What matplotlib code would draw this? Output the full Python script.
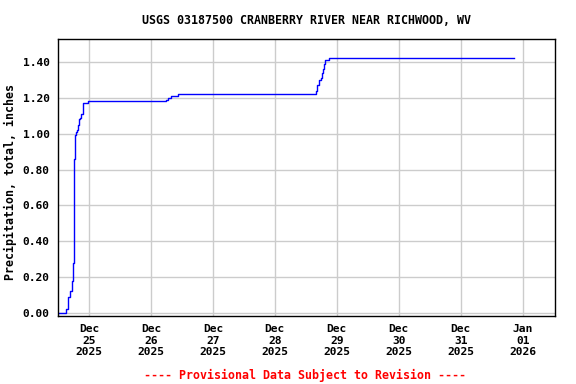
import matplotlib
matplotlib.use("Agg")
import matplotlib.pyplot as plt
import pandas as pd

# cumulative precipitation (inches)
times = ["2025-12-24 12:00", "2025-12-24 15:15", "2025-12-24 15:45", "2025-12-24 16:00",
         "2025-12-24 16:45", "2025-12-24 17:15", "2025-12-24 17:30", "2025-12-24 18:00",
         "2025-12-24 18:15", "2025-12-24 18:45", "2025-12-24 19:00", "2025-12-24 19:30",
         "2025-12-24 19:45", "2025-12-24 20:15", "2025-12-24 20:30", "2025-12-24 21:00",
         "2025-12-24 21:30", "2025-12-24 21:45", "2025-12-24 22:15", "2025-12-24 23:30",
         "2025-12-26 06:00", "2025-12-26 06:45", "2025-12-26 07:45", "2025-12-26 10:30",
         "2025-12-28 16:00", "2025-12-28 16:15", "2025-12-28 17:00", "2025-12-28 18:00",
         "2025-12-28 18:15", "2025-12-28 18:45", "2025-12-28 19:00", "2025-12-28 19:30",
         "2025-12-28 20:15", "2025-12-28 21:00", "2025-12-31 20:45"]
precip = [0.00, 0.02, 0.07, 0.09,
          0.12, 0.14, 0.18, 0.28,
          0.86, 0.99, 1.01, 1.02,
          1.05, 1.08, 1.09, 1.11,
          1.13, 1.17, 1.17, 1.18,
          1.19, 1.20, 1.21, 1.22,
          1.24, 1.27, 1.30, 1.31,
          1.34, 1.36, 1.39, 1.41,
          1.41, 1.42, 1.42]

tick_days = pd.date_range("2025-12-25", "2026-01-01", freq="D")
ytick_vals = [0.0, 0.2, 0.4, 0.6, 0.8, 1.0, 1.2, 1.4]

t = pd.to_datetime(times)

plt.rcParams['font.family'] = ['DejaVu Sans Mono']
plt.rcParams['font.weight'] = 'bold'

fig = plt.figure(figsize=(5.76, 3.84), dpi=100)
ax = fig.add_axes([58/576, 1 - 316/384, (555-58)/576, (316-39)/384])

ax.plot(t, precip, color='#0000ff', lw=1, drawstyle='steps-post')

ax.set_xlim(pd.Timestamp("2025-12-24 12:00"), pd.Timestamp("2026-01-01 12:30"))
ax.set_ylim(-0.017, 1.528)

ax.set_xticks(tick_days)
ax.set_xticklabels([d.strftime("%b\n%d\n%Y") for d in tick_days], fontsize=8.1,
                   fontweight='bold', linespacing=1.15)
ax.set_yticks(ytick_vals)
ax.set_yticklabels(["%.2f" % v for v in ytick_vals], fontsize=8.1, fontweight='bold')
ax.tick_params(length=0, pad=6)
ax.grid(True, color='#cccccc', lw=1)
ax.set_axisbelow(True)
for s in ax.spines.values():
    s.set_linewidth(1)
    s.set_color('black')

ax.set_ylabel("Precipitation, total, inches", fontsize=8.4, fontweight='bold',
              va='center')
ax.yaxis.set_label_coords(-0.095, 0.484)
fig.text(306/576, 1 - 20/384, "USGS 03187500 CRANBERRY RIVER NEAR RICHWOOD, WV",
         ha='center', va='center', fontsize=8.4, fontweight='bold')
fig.text(305/576, 1 - 375/384, "---- Provisional Data Subject to Revision ----",
         ha='center', va='center', fontsize=8.4, fontweight='bold', color='red')

fig.savefig("out.png", dpi=100)
